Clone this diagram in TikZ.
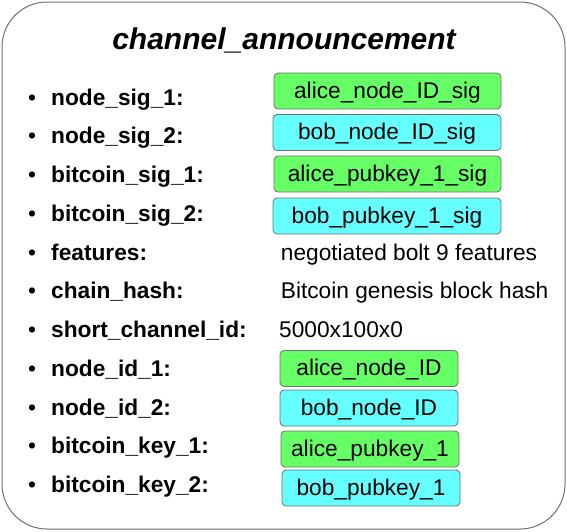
\documentclass[tikz,border=0pt]{standalone}
\usepackage{fontspec}
\setmainfont{Liberation Sans}
\usetikzlibrary{positioning}
\definecolor{alicegreen}{RGB}{102,255,102}
\definecolor{bobcyan}{RGB}{102,255,255}
\definecolor{edgegrey}{RGB}{112,112,112}

\begin{document}
\begin{tikzpicture}[x=1pt, y=-1pt,
    frame/.style={draw=edgegrey, line width=1pt, rounded corners=45pt},
    field/.style={anchor=base west, inner sep=0pt, font=\fontsize{22.7}{27}\selectfont\bfseries},
    bul/.style={anchor=base, inner sep=0pt, font=\fontsize{22.7}{27}\selectfont},
    val/.style={anchor=base west, inner sep=0pt, font=\fontsize{22.7}{27}\selectfont},
    keybox/.style={draw=edgegrey, fill=#1, line width=0.8pt, rounded corners=4pt,
        inner sep=0pt, text height=17pt, text depth=3pt, minimum height=36pt,
        font=\fontsize{22.7}{27}\selectfont}
]
    \useasboundingbox (0,0) rectangle (567,531);
    % Outer frame and title
    \draw[frame] (2,2) rectangle (565,529);
    \node[anchor=base, inner sep=0pt, font=\fontsize{30}{36}\selectfont\bfseries\itshape]
        (title) at (284,49.5) {channel\_announcement};

    % Field names, one row each
    \foreach \i/\txt in {0/node\_sig\_1:, 1/node\_sig\_2:, 2/bitcoin\_sig\_1:,
        3/bitcoin\_sig\_2:, 4/features:, 5/chain\_hash:, 6/short\_channel\_id:,
        7/node\_id\_1:, 8/node\_id\_2:, 9/bitcoin\_key\_1:, 10/bitcoin\_key\_2:} {
        \node[bul] (dot\i) at (32,105+38.75*\i) {•};
        \node[field] (name\i) at (51,105+38.75*\i) {\txt};
    }

    % Signatures
    \node[keybox=alicegreen, minimum width=227pt] (asig) at (387.5,91) {alice\_node\_ID\_sig};
    \node[keybox=bobcyan, minimum width=228pt] (bsig) at (387,132.5) {bob\_node\_ID\_sig};
    \node[keybox=alicegreen, minimum width=227pt] (apsig) at (387.5,174) {alice\_pubkey\_1\_sig};
    \node[keybox=bobcyan, minimum width=228pt] (bpsig) at (387,216) {bob\_pubkey\_1\_sig};

    % Plain values
    \node[val] (feat) at (280.7,260) {negotiated bolt 9 features};
    \node[val] (hash) at (280.7,298.75) {Bitcoin genesis block hash};
    \node[val] (scid) at (279,337.5) {5000x100x0};

    % Node IDs and bitcoin keys
    \node[keybox=alicegreen, minimum width=178pt] (aid) at (369,368.5) {alice\_node\_ID};
    \node[keybox=bobcyan, minimum width=178pt] (bid) at (369,408) {bob\_node\_ID};
    \node[keybox=alicegreen, minimum width=178pt] (akey) at (370,449) {alice\_pubkey\_1};
    \node[keybox=bobcyan, minimum width=178pt] (bkey) at (371,488) {bob\_pubkey\_1};
\end{tikzpicture}
\end{document}
